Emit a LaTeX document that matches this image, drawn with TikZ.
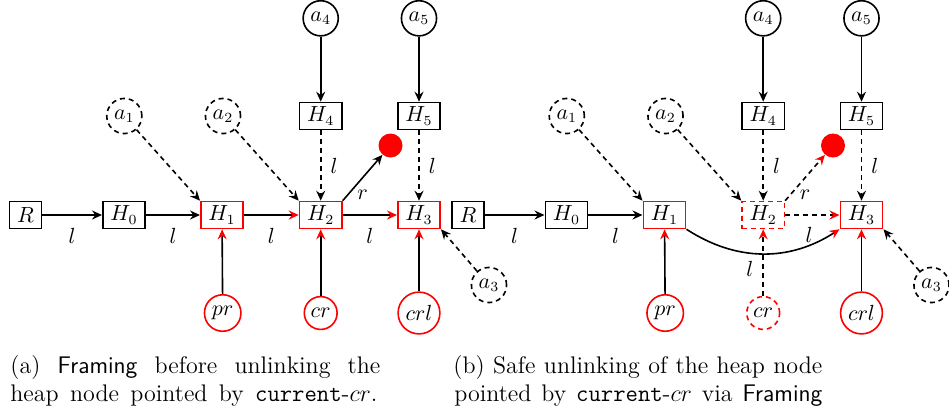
\documentclass[tikz,border=0pt]{standalone}
\usetikzlibrary{arrows.meta,positioning}
\newcommand\nf{\fontsize{10.5}{12}\selectfont}
\newcommand\cf{\fontsize{12}{14}\selectfont}
\begin{document}
\begin{tikzpicture}[x=0.5pt,y=-0.5pt,
  every node/.style={font=\nf},
  hb/.style={draw, line width=0.8pt, rectangle, inner xsep=3.8pt, inner ysep=0pt, minimum height=13.5pt},
  rb/.style={hb, draw=red},
  ds/.style={dash pattern=on 2.5pt off 2pt},
  rbd/.style={rb, ds},
  cc/.style={draw, circle, line width=0.8pt, inner sep=2pt},
  ccd/.style={cc, ds},
  rc/.style={cc, draw=red},
  rcd/.style={rc, ds},
  reddot/.style={circle, fill=red, minimum size=12pt, inner sep=0pt},
  ar/.style={line width=0.8pt, -{Stealth[length=5pt,width=4.5pt,inset=1.7pt]}},
  ra/.style={line width=0.8pt, -{Stealth[length=5pt,width=4.5pt,inset=1.7pt,red]}},
  lb/.style={inner sep=1pt},
  captext/.style={anchor=base west, font=\cf, inner sep=0pt},
]
\useasboundingbox (0,0) rectangle (949,414);

% ---------- panel (a) ----------
\node[hb] (R) at (25.5,215) {$R$};
\node[hb] (H0) at (124,215) {$H_0$};
\node[rb] (H1) at (222,215) {$H_1$};
\node[rb] (H2) at (320.7,215) {$H_2$};
\node[rb] (H3) at (419,215) {$H_3$};
\node[hb] (H4) at (320.7,116) {$H_4$};
\node[hb] (H5) at (419,116) {$H_5$};
\node[cc] (a4) at (320.7,18.3) {$a_4$};
\node[cc] (a5) at (419,18.3) {$a_5$};
\node[ccd] (a1) at (124.3,116) {$a_1$};
\node[ccd] (a2) at (223,116) {$a_2$};
\node[ccd] (a3) at (489,285) {$a_3$};
\node[reddot] (dot) at (390.5,145.5) {};
\node[rc] (pr) at (222.7,313) {$pr$};
\node[rc] (cr) at (320.7,313) {$cr$};
\node[rc] (crl) at (419,313) {$crl$};

\draw[ar] (R) -- node[lb, below=5.3pt] (lRa) {$l$} (H0);
\draw[ar] (H0) -- node[lb, below=5.3pt] (lHa) {$l$} (H1);
\draw[ra] (H1) -- node[lb, below=5.3pt] (l1a) {$l$} (H2);
\draw[ra] (H2) -- node[lb, below=5.3pt] (l2a) {$l$} (H3);
\draw[ar] (a4) -- (H4);
\draw[ar] (a5) -- (H5);
\draw[ar, ds] (H4) -- node[lb, right=3.5pt] (l4a) {$l$} (H2);
\draw[ar, ds] (H5) -- node[lb, right=3.5pt] (l5a) {$l$} (H3);
\draw[ar, ds] (a1) -- (H1.north west);
\draw[ar, ds] (a2) -- (H2.north west);
\draw[ar, ds] (a3) -- (H3.south east);
\draw[ar] (H2.north east) -- node[lb, pos=0.3, below right=0pt] (lra) {$r$} (dot);
\draw[ra] (pr) -- (H1);
\draw[ra] (cr) -- (H2);
\draw[ra] (crl) -- (H3);

% ---------- panel (b) ----------
\begin{scope}[shift={(442.5,0)}]
\node[hb] (bR) at (25.5,215) {$R$};
\node[hb] (bH0) at (124,215) {$H_0$};
\node[rb] (bH1) at (222,215) {$H_1$};
\node[rbd] (bH2) at (320.7,215) {$H_2$};
\node[rb] (bH3) at (419,215) {$H_3$};
\node[hb] (bH4) at (320.7,116) {$H_4$};
\node[hb] (bH5) at (419,116) {$H_5$};
\node[cc] (ba4) at (320.7,18.3) {$a_4$};
\node[cc] (ba5) at (419,18.3) {$a_5$};
\node[ccd] (ba1) at (124.3,116) {$a_1$};
\node[ccd] (ba2) at (223,116) {$a_2$};
\node[ccd] (ba3) at (489,285) {$a_3$};
\node[reddot] (bdot) at (390.5,145.5) {};
\node[rc] (bpr) at (222.7,313) {$pr$};
\node[rcd] (bcr) at (320.7,313) {$cr$};
\node[rc] (bcrl) at (419,313) {$crl$};

\draw[ar] (bR) -- node[lb, below=5.3pt] (lRb) {$l$} (bH0);
\draw[ar] (bH0) -- node[lb, below=5.3pt] (lHb) {$l$} (bH1);
\draw[ra] (bH1) to[bend right=33] node[lb, pos=0.8, above] (l1b) {$l$} (bH3);
\draw[ra, ds] (bH2) -- (bH3);
\draw[ar] (ba4) -- (bH4);
\draw[ar] (ba5) -- (bH5);
\draw[ar, ds] (bH4) -- node[lb, right=3.5pt] (l4b) {$l$} (bH2);
\draw[ar, ds] (bH5) -- node[lb, right=3.5pt] (l5b) {$l$} (bH3);
\draw[ar, ds] (ba1) -- (bH1.north west);
\draw[ar, ds] (ba2) -- (bH2.north west);
\draw[ar, ds] (ba3) -- (bH3.south east);
\draw[ra, ds] (bH2.north east) -- node[lb, pos=0.3, below right=0pt] (lrb) {$r$} (bdot);
\draw[ra] (bpr) -- (bH1);
\draw[ra, ds] (bcr) -- node[lb, pos=0.4, left=3.5pt] (lcb) {$l$} (bH2);
\draw[ra] (bcrl) -- (bH3);
\end{scope}

% ---------- captions ----------
\node[captext] (capa1) at (10,373) {\hbox to 185pt{(a) \textsf{Framing} before unlinking the}};
\node[captext] (capa2) at (10,401) {\hbox to 183.5pt{heap node pointed by \texttt{current}-$cr$.}};
\node[captext] (capb1) at (453,373) {\hbox to 184.5pt{(b) Safe unlinking of the heap node}};
\node[captext] (capb2) at (454,401) {\hbox to 184pt{pointed by \texttt{current}-$cr$ via \textsf{Framing}}};
\end{tikzpicture}
\end{document}
